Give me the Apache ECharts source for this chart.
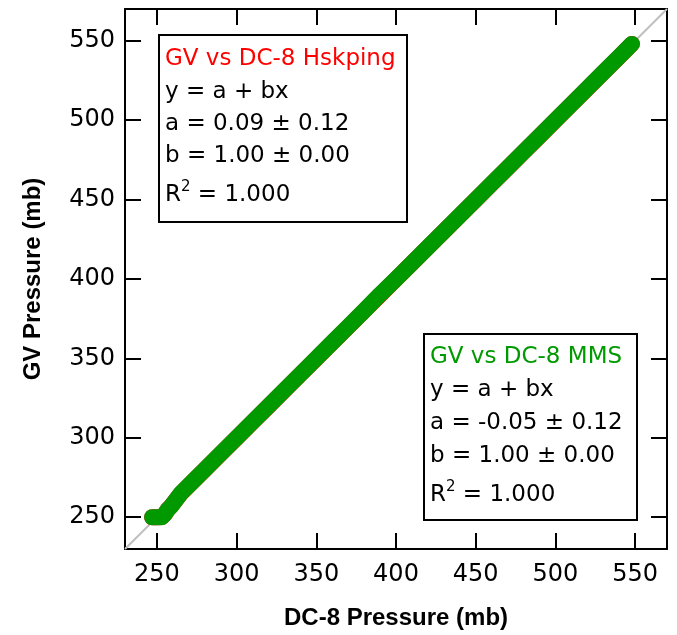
<!DOCTYPE html>
<html>
<head>
<meta charset="utf-8">
<script src="https://cdn.jsdelivr.net/npm/echarts@6/dist/echarts.min.js"></script>
<style>html,body{margin:0;padding:0;background:#fff;}#chart{width:677px;height:635px;}</style>
</head>
<body>
<div id="chart"></div>
<script>
// Axis ticks
var xTicks = [250, 300, 350, 400, 450, 500, 550];
var yTicks = [250, 300, 350, 400, 450, 500, 550];
// 1:1 reference line endpoints
var diagX = [230, 570];
var diagY = [230, 570];
// GV vs DC-8 Hskping (red)
var hskX = [247, 250, 253, 255, 257, 259, 262, 265, 268, 270, 280, 290, 300, 310, 320, 330, 340, 350, 360, 370, 380, 390, 400, 410, 420, 430, 440, 450, 460, 470, 480, 490, 500, 510, 520, 530, 540, 548];
var hskY = [250, 250, 250.1, 252, 255, 257.1, 261, 264.9, 267.9, 269.9, 279.9, 289.9, 299.9, 309.9, 319.9, 329.9, 339.9, 349.9, 359.9, 369.9, 379.9, 389.9, 399.9, 409.9, 419.9, 429.9, 439.9, 449.9, 459.9, 469.9, 479.9, 489.9, 499.9, 509.9, 519.9, 529.9, 539.9, 548];
// GV vs DC-8 MMS (green)
var mmsX = [247, 250, 253, 255, 257, 259, 262, 265, 268, 270, 280, 290, 300, 310, 320, 330, 340, 350, 360, 370, 380, 390, 400, 410, 420, 430, 440, 450, 460, 470, 480, 490, 500, 510, 520, 530, 540, 548];
var mmsY = [250, 250, 250, 252, 255, 257, 261, 265, 268, 270, 280, 290, 300, 310, 320, 330, 340, 350, 360, 370, 380, 390.3, 400, 410, 420, 430, 440, 450, 460, 470, 480, 490, 500, 510, 520, 530, 540, 548];
// Fit boxes text
var box1Lines = ['GV vs DC-8 Hskping', 'y = a + bx', 'a = 0.09 ± 0.12', 'b = 1.00 ± 0.00', '1.000'];
var box2Lines = ['GV vs DC-8 MMS', 'y = a + bx', 'a = -0.05 ± 0.12', 'b = 1.00 ± 0.00', '1.000'];

function pairs(xs, ys){ return xs.map(function(x,i){return [x, ys[i]];}); }

var FONT = 'DejaVu Sans';
var TFONT = 'Liberation Sans';
var RED = '#ff0000', GREEN = '#009900';
var chart = echarts.init(document.getElementById('chart'), null, {renderer:'canvas'});

var tickCommon = {show:true, inside:true, length:16, lineStyle:{color:'#000', width:2}};
var lineCommon = {show:true, onZero:false, lineStyle:{color:'#000', width:2}};

function boxGraphic(left, top, width, height, lines, color, textLeft, lineYs){
  var els = [{
    type:'rect', left:left, top:top, z:100,
    shape:{width:width, height:height},
    style:{fill:'#fff', stroke:'#000', lineWidth:2}
  }];
  lines.forEach(function(t, i){
    if (i === 4) {
      els.push({type:'text', x:textLeft, y:lineYs[i], z:101,
        style:{text:'R{s|2} = ' + t, fill:'#000', fontSize:23, fontFamily:FONT,
          verticalAlign:'middle', align:'left',
          rich:{s:{fontSize:15, fontFamily:FONT, verticalAlign:'bottom', padding:[0,0,16,0], fill:'#000'}}}});
    } else {
      els.push({type:'text', x:textLeft, y:lineYs[i], z:101,
        style:{text:t, fill: i===0 ? color : '#000', fontSize:23, fontFamily:FONT,
          verticalAlign:'middle', align:'left'}});
    }
  });
  return els;
}

var graphics = [].concat(
  boxGraphic(158, 34, 248, 187, box1Lines, RED, 165, [59, 92, 124, 156, 195]),
  boxGraphic(423, 333, 213, 186, box2Lines, GREEN, 430, [357, 390, 423, 456, 495])
);

var axisCommon = {type:'value', min:230, max:570, splitLine:{show:false}};

chart.setOption({
  animation:false,
  backgroundColor:'#fff',
  grid:{left:125, top:9, right:10, bottom:84, show:false},
  xAxis:[Object.assign({}, axisCommon, {
    position:'bottom',
    name:'DC-8 Pressure (mb)', nameLocation:'middle', nameGap:57,
    nameTextStyle:{fontFamily:TFONT, fontWeight:'bold', fontSize:24, color:'#000'},
    axisLine:lineCommon, axisTick:Object.assign({customValues:xTicks}, tickCommon),
    axisLabel:{customValues:xTicks, margin:14, fontFamily:FONT, fontSize:24, color:'#000'}
  }), Object.assign({}, axisCommon, {
    position:'top',
    axisLine:lineCommon, axisTick:Object.assign({customValues:xTicks}, tickCommon), axisLabel:{show:false}
  })],
  yAxis:[Object.assign({}, axisCommon, {
    position:'left',
    name:'GV Pressure (mb)', nameLocation:'middle', nameGap:80,
    nameTextStyle:{fontFamily:TFONT, fontWeight:'bold', fontSize:24, color:'#000'},
    axisLine:lineCommon, axisTick:Object.assign({customValues:yTicks}, tickCommon),
    axisLabel:{customValues:yTicks, margin:10, fontFamily:FONT, fontSize:24, color:'#000'}
  }), Object.assign({}, axisCommon, {
    position:'right',
    axisLine:lineCommon, axisTick:Object.assign({customValues:yTicks}, tickCommon), axisLabel:{show:false}
  })],
  series:[
    {type:'line', data:pairs(diagX, diagY), showSymbol:false, silent:true, z:1,
      lineStyle:{color:'#c0c0c0', width:2}},
    {type:'line', data:pairs(hskX, hskY), showSymbol:false, z:2,
      lineStyle:{color:RED, width:16, cap:'round', join:'round'}},
    {type:'line', data:pairs(mmsX, mmsY), showSymbol:false, z:3,
      lineStyle:{color:GREEN, width:16, cap:'round', join:'round'}}
  ],
  graphic:graphics
});
</script>
</body>
</html>
